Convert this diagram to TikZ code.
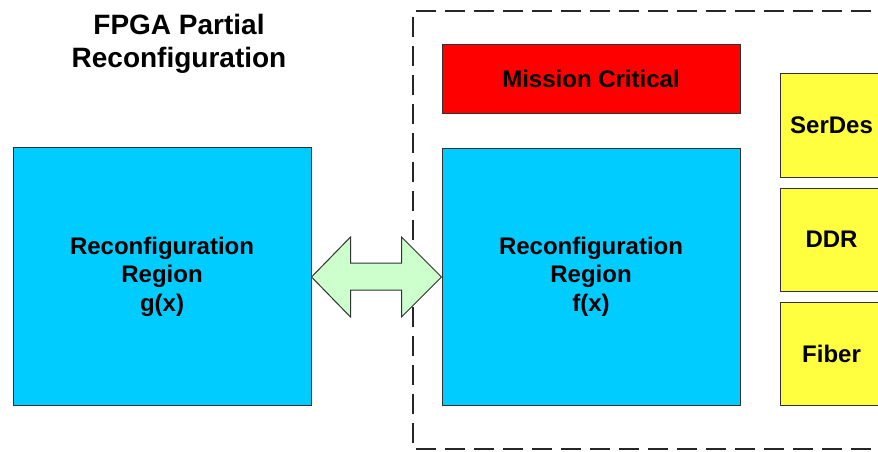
\documentclass[tikz,border=0pt]{standalone}
\usepackage{fontspec}
\setmainfont{Liberation Sans}
\usetikzlibrary{calc}
\definecolor{regblue}{RGB}{0,204,255}
\definecolor{critred}{RGB}{255,0,0}
\definecolor{ioyellow}{RGB}{255,255,64}
\definecolor{arrowgreen}{RGB}{204,255,204}
\definecolor{edge}{RGB}{50,50,50}
\tikzset{
  blk/.style={draw=edge, line width=1pt, inner sep=0pt, align=center,
              font=\fontsize{24}{28.5}\selectfont\bfseries},
}
\begin{document}
\begin{tikzpicture}[x=1pt,y=-1pt]
  \clip (0,0) rectangle (878,451);
  \fill[white] (0,0) rectangle (878,451);

  % title
  \node[align=center, font=\fontsize{28}{33}\selectfont\bfseries] (title) at (179,44)
    {FPGA Partial\\Reconfiguration};

  % dashed FPGA boundary
  \draw[black!85, line width=2.7pt, dash pattern=on 20pt off 9pt]
    (900,11) -- (413,11) -- (413,449) -- (900,449);

  % blocks
  \node[blk, fill=regblue, minimum width=298pt, minimum height=258pt] (g) at (162,276.5)
    {Reconfiguration\\Region\\g(x)};
  \node[blk, fill=regblue, minimum width=298pt, minimum height=257pt] (f) at (591,276.5)
    {Reconfiguration\\Region\\f(x)};
  \node[blk, fill=critred, minimum width=298pt, minimum height=69pt] (mc) at (591,78.5)
    {Mission Critical};
  \node[blk, fill=ioyellow, minimum width=103pt, minimum height=104pt] (serdes) at (831.5,125)
    {SerDes};
  \node[blk, fill=ioyellow, minimum width=103pt, minimum height=103pt] (ddr) at (831.5,239.5)
    {DDR};
  \node[blk, fill=ioyellow, minimum width=103pt, minimum height=103pt] (fiber) at (831.5,353.5)
    {Fiber};

  % double-headed block arrow between the two regions
  \coordinate (lt) at (g.east |- 0,277);
  \coordinate (rt) at (f.west |- 0,277);
  \draw[draw=edge, line width=1pt, fill=arrowgreen, line join=miter]
    (lt) -- ($(lt)+(39,-40)$) -- ($(lt)+(39,-14)$) -- ($(rt)+(-40,-14)$)
    -- ($(rt)+(-40,-40)$) -- (rt) -- ($(rt)+(-40,40)$) -- ($(rt)+(-40,13)$)
    -- ($(lt)+(39,13)$) -- ($(lt)+(39,40)$) -- cycle;
\end{tikzpicture}
\end{document}
